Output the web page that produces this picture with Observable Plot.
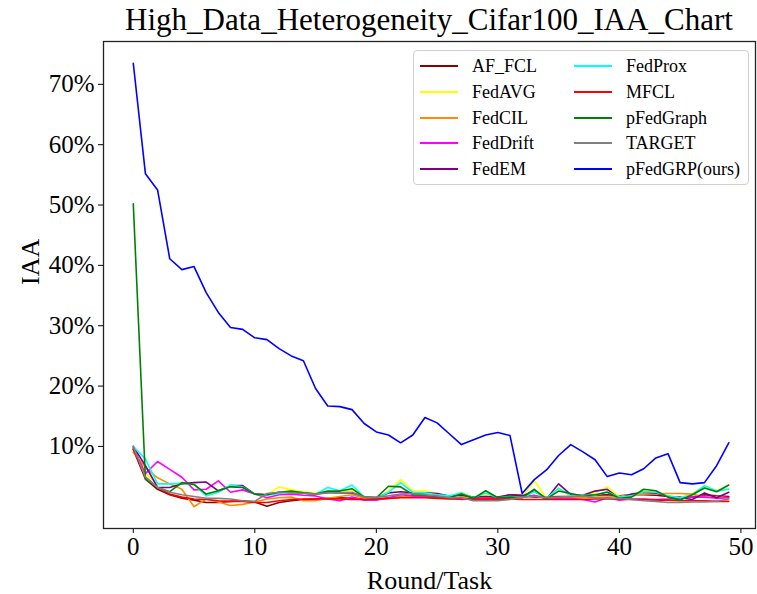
<!DOCTYPE html>
<html><head><meta charset="utf-8">
<script src="https://cdn.jsdelivr.net/npm/d3@7"></script>
<script src="https://cdn.jsdelivr.net/npm/@observablehq/plot@0.6"></script>
<style>
body{margin:0;background:#fff;font-family:"Liberation Serif","DejaVu Serif",serif;}
#wrap{position:relative;width:757px;height:594px;overflow:hidden;}
#title{position:absolute;left:103px;width:652px;top:0;text-align:center;font-size:31px;line-height:40px;color:#000;white-space:nowrap;}
#legend{position:absolute;left:413px;top:50px;width:334px;height:133px;border:1px solid #d0d0d0;border-radius:4px;background:rgba(255,255,255,0.85);font-size:18px;}
.item{position:absolute;height:20px;line-height:20px;white-space:nowrap;}
.item .sw{position:absolute;top:9px;width:38px;height:0;border-top:2px solid;}
.item .lb{position:absolute;}
</style></head>
<body>
<div id="wrap">
<div id="chart"></div>
<div id="title">High_Data_Heterogeneity_Cifar100_IAA_Chart</div>
<div id="legend"></div>
</div>
<script>
const rounds = d3.range(0, 50);
const methods = ["AF_FCL","FedAVG","FedCIL","FedDrift","FedEM","FedProx","MFCL","pFedGraph","TARGET","pFedGRP(ours)"];
const colors = ["#8b0000","#ffff00","#ff8c00","#ff00ff","#800080","#00ffff","#ff0000","#008000","#808080","#0000ff"];
const xTicks = [0,10,20,30,40,50];
const yTicks = [0.1,0.2,0.3,0.4,0.5,0.6,0.7];
const xTitle = "Round/Task";
const yTitle = "IAA";

const AF_FCL = [9.5,4.6,2.9,2.0,1.4,1.1,0.7,0.7,0.9,1.0,0.8,0.1,0.7,1.0,1.2,1.3,1.4,1.5,1.4,1.3,1.3,1.4,1.6,1.7,1.6,1.6,1.5,1.4,1.3,1.3,1.4,2.0,1.9,1.6,1.6,1.7,1.7,1.8,1.9,2.0,1.8,2.0,2.0,1.9,1.7,1.6,1.6,2.0,1.8,1.7];
const FedAVG = [9.8,5.5,3.8,3.8,3.9,3.6,2.0,2.4,3.5,3.3,2.1,2.0,3.3,2.8,2.5,2.3,2.5,2.5,2.8,1.5,1.4,2.6,4.5,2.6,2.6,2.2,1.3,2.4,1.5,2.0,1.6,1.7,1.6,4.3,1.4,3.0,1.8,1.9,2.3,3.3,1.7,1.9,2.7,2.4,1.8,1.5,2.2,3.3,2.7,3.0];
const FedCIL = [9.0,6.5,4.8,3.8,2.9,0.0,1.3,0.8,0.2,0.4,0.8,1.3,1.5,1.6,1.0,1.0,1.4,1.7,2.0,1.4,1.4,1.5,1.6,1.8,1.9,1.6,1.4,1.6,1.4,1.5,1.5,1.5,1.6,1.8,1.6,1.5,1.6,1.5,1.6,1.6,1.7,1.8,2.1,2.2,2.2,2.2,2.1,1.6,1.7,1.5];
const FedDrift = [9.8,5.5,7.5,6.2,4.9,2.8,2.9,4.3,2.4,2.8,2.1,1.5,2.0,2.1,1.9,1.8,1.3,1.0,1.6,1.1,1.1,1.5,2.0,1.8,1.6,1.5,1.4,1.2,1.3,1.3,1.2,1.5,1.6,1.9,1.3,1.4,1.4,1.2,0.8,1.5,1.1,1.3,1.3,1.2,1.3,1.4,1.6,1.6,1.4,1.5];
const FedEM = [10.0,6.8,3.2,3.2,3.8,4.0,4.1,2.65,3.5,3.5,2.1,2.0,2.4,2.4,2.3,2.1,2.4,2.3,2.3,1.7,1.5,2.3,2.5,2.3,2.3,2.2,1.8,1.9,1.6,1.7,1.6,2.0,1.8,2.6,1.3,3.8,2.0,1.9,2.6,2.9,1.4,2.1,2.4,2.3,1.7,1.5,1.2,2.3,1.5,2.4];
const FedProx = [10.0,7.9,3.8,3.8,3.9,3.7,1.8,2.4,3.6,3.3,2.1,1.9,2.2,2.5,2.3,2.1,3.2,2.65,3.6,1.6,1.4,2.4,4.0,2.4,2.3,2.0,1.8,2.3,1.5,2.3,1.5,1.7,1.5,2.5,1.4,3.1,1.8,1.9,1.9,2.5,1.6,1.8,2.5,2.4,1.8,1.5,2.0,3.5,2.6,2.9];
const MFCL = [9.6,4.9,3.2,2.1,1.6,1.3,1.2,1.0,0.9,0.9,0.7,0.7,1.0,1.2,1.3,1.3,1.3,1.3,1.2,1.2,1.3,1.4,1.5,1.5,1.5,1.4,1.3,1.3,1.3,1.3,1.3,1.3,1.2,1.2,1.2,1.2,1.2,1.2,1.3,1.3,1.3,1.2,1.2,1.1,1.1,1.0,1.0,1.0,0.9,0.9];
const pFedGraph = [50.2,4.6,3.2,2.5,4.0,3.7,2.1,2.65,3.3,3.2,2.1,2.0,2.4,2.6,2.3,2.1,2.6,2.6,3.0,1.6,1.5,3.4,3.3,2.0,1.9,1.7,1.5,2.1,1.4,2.65,1.5,1.6,1.5,2.9,1.3,2.6,2.2,1.8,2.0,2.4,1.4,1.6,2.9,2.65,1.6,1.1,2.0,3.1,2.5,3.6];
const TARGET = [10.0,4.9,3.2,2.4,2.0,1.7,1.4,1.4,1.3,1.0,0.9,2.2,2.4,2.3,2.2,2.1,2.3,2.3,2.4,1.6,1.6,1.8,2.1,2.2,2.0,1.8,1.5,1.5,1.0,1.0,1.0,1.2,1.6,1.7,1.5,1.6,1.7,1.8,1.5,1.4,1.4,1.2,1.0,0.9,0.7,0.7,0.8,0.8,0.9,1.3];
const pFedGRP = [73.5,55.2,52.5,41.1,39.3,39.8,35.5,32.2,29.7,29.4,28.0,27.7,26.2,25.0,24.2,19.6,16.7,16.6,16.1,13.8,12.4,11.9,10.6,11.9,14.8,13.9,12.1,10.3,11.1,11.9,12.3,11.8,2.2,4.5,6.1,8.5,10.3,9.1,7.8,5.0,5.6,5.3,6.3,8.1,8.8,4.0,3.8,4.0,6.8,10.6];

const series = [AF_FCL,FedAVG,FedCIL,FedDrift,FedEM,FedProx,MFCL,pFedGraph,TARGET,pFedGRP];
const rows = [];
series.forEach((vals, k) => vals.forEach((v, i) => rows.push({method: methods[k], round: rounds[i], value: v / 100})));

const chart = Plot.plot({
  width: 757, height: 594,
  marginTop: 41, marginBottom: 66, marginLeft: 103, marginRight: 2,
  style: {fontFamily: "'Liberation Serif', serif", fontSize: "25px", background: "white", color: "black", overflow: "visible"},
  x: {domain: [-2.45, 51.2]},
  y: {domain: [-0.036, 0.771]},
  color: {domain: methods, range: colors},
  marks: [
    Plot.axisX({ticks: xTicks, tickSize: 5, tickPadding: 4, fontSize: 25, label: null}),
    Plot.axisY({ticks: yTicks, tickFormat: d => Math.round(d * 100) + "%", tickSize: 5, tickPadding: 4, fontSize: 25, label: null}),
    Plot.line(rows, {x: "round", y: "value", z: "method", stroke: "method", strokeWidth: 1.6}),
    Plot.frame({stroke: "#222", strokeWidth: 1.3}),
    Plot.text([xTitle], {frameAnchor: "bottom", dy: 52, text: d => d, fontSize: 26, lineAnchor: "middle"}),
    Plot.text([yTitle], {frameAnchor: "left", dx: -73, text: d => d, fontSize: 26, rotate: -90, lineAnchor: "middle"})
  ]
});
document.getElementById("chart").appendChild(chart);

const leg = document.getElementById("legend");
methods.forEach((m, k) => {
  const col = Math.floor(k / 5), row = k % 5;
  const it = document.createElement("div");
  it.className = "item";
  it.style.left = (col === 0 ? 6 : 160) + "px";
  it.style.top = (5 + row * 25.8) + "px";
  const sw = document.createElement("div");
  sw.className = "sw"; sw.style.borderColor = colors[k]; sw.style.left = "0px";
  const lb = document.createElement("div");
  lb.className = "lb"; lb.style.left = "52px"; lb.textContent = m;
  it.appendChild(sw); it.appendChild(lb); leg.appendChild(it);
});
</script>
</body></html>
